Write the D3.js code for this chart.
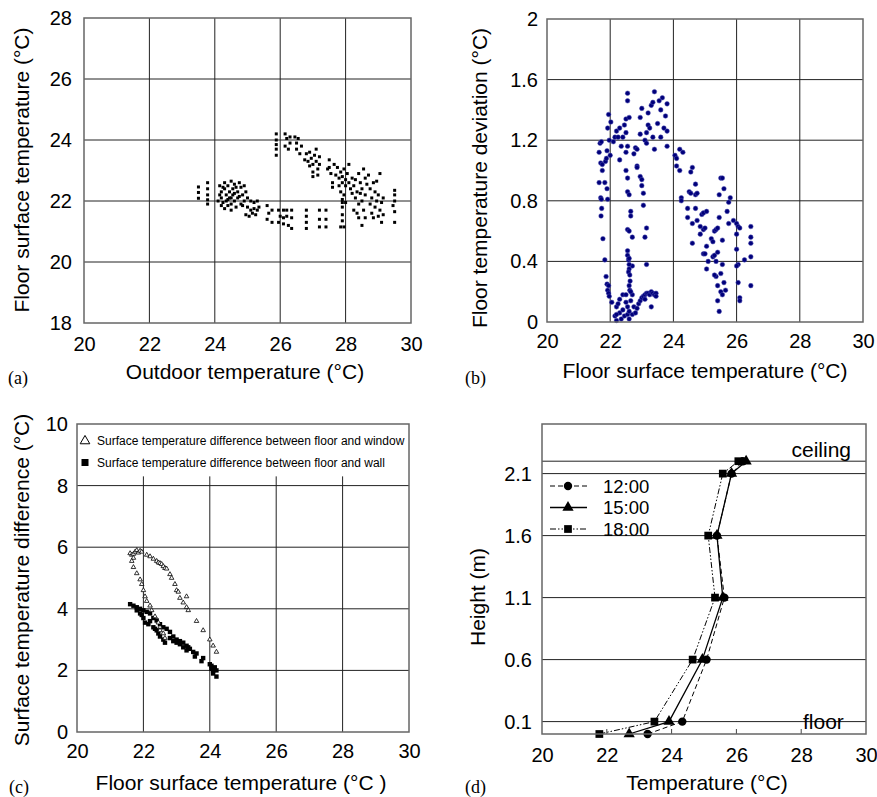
<!DOCTYPE html>
<html>
<head>
<meta charset="utf-8">
<script src="https://cdn.jsdelivr.net/npm/d3@7"></script>
<style>
  body { margin: 0; background: #fff; }
  text { font-family: "Liberation Sans", Arial, sans-serif; fill: #000; }
  .plab { font-family: "Liberation Serif", "Times New Roman", serif; }
</style>
</head>
<body>
<svg id="fig" width="877" height="797"></svg>
<script>
// (a) outdoor temperature vs floor surface temperature
const A_POINTS = [
  [23.5,22.46],[23.5,22.28],[23.5,22.09],
  [23.78,22.6],[23.78,22.4],[23.78,22.2],[23.78,22.04],[23.78,21.9],
  [24.15,22.5],[24.2,22.3],[24.2,22.1],[24.25,21.95],[24.3,22.6],[24.3,22.4],[24.35,22.2],[24.35,22.0],
  [24.4,21.85],[24.4,22.5],[24.45,22.3],[24.45,22.1],[24.5,22.65],[24.5,21.9],[24.55,22.4],[24.55,22.2],
  [24.6,22.0],[24.6,22.55],[24.65,21.8],[24.7,22.3],[24.7,22.1],[24.75,22.6],[24.8,22.45],[24.8,21.9],
  [24.85,22.2],[24.9,22.5],[24.9,22.0],[24.3,21.75],[24.5,21.7],[24.1,22.0],[24.15,22.2],[24.25,22.45],
  [24.6,22.25],[24.4,22.05],[24.65,22.45],[24.75,22.15],[24.85,21.85],[24.95,22.3],[24.2,21.85],[24.5,22.1],
  [25.0,22.1],[25.0,21.8],[25.05,21.5],[25.1,22.0],[25.1,21.7],[25.15,21.6],[25.2,21.95],[25.2,21.75],
  [25.25,21.55],[25.3,22.0],[25.3,21.7],[24.95,21.55],[25.35,21.8],
  [25.6,21.85],[25.65,21.6],[25.6,21.4],[25.75,21.7],[25.75,21.3],
  [25.95,21.7],[26.0,21.5],[25.95,21.3],[26.1,21.7],[26.1,21.45],[26.1,21.25],[26.2,21.7],[26.2,21.5],
  [26.25,21.2],[26.35,21.7],[26.35,21.45],[26.35,21.1],
  [26.8,21.7],[26.8,21.5],[26.8,21.3],[26.8,21.1],
  [27.2,21.7],[27.2,21.4],[27.2,21.15],[27.4,21.7],[27.4,21.4],[27.4,21.15],
  [27.9,21.8],[27.9,21.55],[27.9,21.35],[27.85,21.15],[27.95,21.15],[27.9,21.95],
  [25.88,24.2],[25.88,24.0],[25.88,23.85],[25.88,23.7],[25.88,23.5],
  [26.15,24.2],[26.2,24.05],[26.15,23.8],[26.3,24.1],[26.3,23.9],[26.25,23.7],
  [26.45,24.1],[26.5,23.9],[26.55,24.05],[26.5,23.7],[26.6,23.55],[26.65,23.8],
  [26.8,23.55],[26.85,23.3],[26.9,23.6],[26.95,23.4],[27.0,23.2],[27.0,22.95],[27.05,23.5],[27.1,23.7],
  [27.1,23.3],[27.15,23.05],[27.2,23.45],[27.0,22.8],[26.9,23.15],[27.15,22.85],[27.2,23.2],[26.75,23.35],
  [27.5,23.35],[27.5,23.1],[27.55,22.9],[27.6,22.6],[27.6,22.45],[27.45,23.05],[27.65,23.2],[27.7,22.85],
  [27.75,23.1],[27.8,22.75],[27.85,22.95],[27.9,22.6],[27.9,22.8],[27.95,23.05],[28.0,22.5],[28.0,22.7],
  [28.05,22.9],[28.1,22.6],[28.1,23.2],[28.15,22.4],[27.8,22.5],[27.85,22.3],[28.2,22.75],[28.2,22.25],
  [27.95,22.2],[28.0,21.95],[27.9,22.05],
  [28.25,22.5],[28.3,22.7],[28.3,22.1],[28.35,22.3],[28.4,22.9],[28.4,21.9],[28.45,22.6],[28.5,22.0],
  [28.5,22.4],[28.55,23.05],[28.55,21.7],[28.6,22.2],[28.6,22.75],[28.6,21.45],[28.65,22.55],[28.35,21.6],
  [28.4,21.45],[28.5,21.2],[28.25,21.7],[28.45,22.25],
  [28.7,22.85],[28.75,22.4],[28.75,21.9],[28.8,22.1],[28.8,21.6],[28.85,22.6],[28.85,21.45],[28.9,22.3],
  [28.9,21.8],[28.95,22.0],[29.0,22.2],[29.0,21.5],[29.05,22.9],[29.05,21.7],[29.1,21.95],[29.1,21.3],
  [28.95,22.65],[29.15,21.55],[29.15,22.1],
  [29.5,22.35],[29.5,22.2],[29.5,22.0],[29.5,21.65],[29.5,21.3],[29.45,21.85]
];

// (b) floor surface temperature vs floor temperature deviation
const B_POINTS = [
  [21.65,1.12],[21.68,1.18],[21.72,1.19],[21.7,1.05],[21.75,1.04],[21.75,1.0],[21.65,0.92],[21.83,0.92],
  [21.7,0.82],[21.72,0.81],[21.73,0.75],[21.71,0.70],[21.77,0.55],[21.83,0.41],[21.87,0.30],[21.9,0.25],
  [21.95,0.24],[21.92,0.21],[21.95,0.19],[21.97,0.17],[21.9,0.88],[21.92,0.81],[21.85,1.06],[21.88,1.08],
  [21.9,1.13],[21.92,1.28],[21.95,1.37],[21.97,1.2],[22.0,1.1],[22.02,1.32],
  [22.1,1.19],[22.15,1.22],[22.2,1.26],[22.25,1.22],[22.3,1.28],[22.35,1.16],[22.3,1.07],[22.4,1.22],
  [22.45,1.3],[22.5,1.34],[22.55,1.46],[22.55,1.51],[22.6,1.35],[22.5,1.25],[22.5,1.12],[22.55,1.16],
  [22.5,1.0],[22.55,0.95],[22.55,0.86],[22.6,0.84],[22.65,0.73],[22.65,0.70],[22.55,0.61],[22.6,0.60],
  [22.7,0.56],[22.7,0.37],
  [22.8,1.15],[22.75,1.11],[22.85,1.14],[22.85,1.03],[22.85,1.02],[22.95,1.24],[22.95,1.35],[23.0,1.41],
  [22.95,0.96],[23.0,0.94],[23.0,0.9],[23.05,0.85],[23.05,0.77],[23.1,0.56],[23.15,0.62],[23.15,0.38],
  [23.1,1.2],[23.15,1.18],[23.15,1.25],[23.2,1.3],[23.2,1.38],[23.3,1.43],[23.35,1.45],[23.4,1.52],
  [23.35,1.22],[23.4,1.14],[23.5,1.31],[23.55,1.46],[23.6,1.4],[23.65,1.48],[23.6,1.22],[23.7,1.28],
  [23.75,1.36],[23.8,1.44],[23.8,1.26],[23.8,1.16],[23.25,1.28],
  [22.05,0.13],[22.15,0.04],[22.2,0.1],[22.2,0.01],[22.25,0.12],[22.3,0.06],[22.3,0.15],[22.35,0.02],
  [22.4,0.18],[22.45,0.04],[22.5,0.13],[22.5,0.18],[22.55,0.05],[22.55,0.1],[22.6,0.02],[22.65,0.14],
  [22.7,0.05],[22.7,0.18],[22.75,0.1],[22.8,0.06],[22.85,0.09],[22.9,0.12],[22.95,0.14],[23.0,0.16],
  [23.05,0.17],[23.1,0.18],[23.15,0.19],[23.2,0.19],[23.25,0.18],[23.3,0.2],[23.35,0.19],[23.4,0.18],
  [23.45,0.19],[23.45,0.17],[23.3,0.1],[23.1,0.15],[22.2,0.05],[22.4,0.08],[22.6,0.07],
  [22.55,0.47],[22.55,0.44],[22.58,0.41],[22.6,0.38],[22.6,0.35],[22.58,0.33],[22.62,0.31],[22.63,0.27],
  [22.6,0.24],[22.62,0.21],[22.65,0.2],[22.6,0.42],
  [24.05,1.1],[24.1,1.08],[24.1,1.03],[24.2,1.0],[24.2,1.14],[24.3,1.12],[24.25,0.82],[24.25,0.8],
  [24.45,0.75],[24.45,0.69],[24.5,0.86],[24.55,0.85],[24.55,0.99],[24.6,1.02],[24.6,0.65],[24.6,0.52],
  [24.7,0.91],[24.7,0.84],[24.75,0.85],[24.7,0.75],[24.75,0.67],[24.9,0.71],[24.95,0.72],[24.85,0.63],
  [24.85,0.58],[24.95,0.61],[25.0,0.62],[25.05,0.73],[24.95,0.45],[25.05,0.5],[25.0,0.45],[25.1,0.4],
  [25.05,0.35],[25.2,0.55],[25.25,0.53],[25.25,0.43],[25.3,0.44],[25.3,0.6],[25.35,0.61],[25.35,0.3],
  [25.3,0.31],[25.35,0.4],[25.4,0.46],[25.4,0.62],[25.45,0.69],[25.45,0.84],[25.5,0.95],[25.55,0.95],
  [25.6,0.88],[25.55,0.54],[25.5,0.32],[25.4,0.14],[25.45,0.07],[25.4,0.24],[25.55,0.38],[25.5,0.2],
  [25.55,0.18],[25.6,0.26],[25.65,0.21],[25.7,0.73],[25.75,0.79],[25.8,0.82],[25.75,0.65],[25.9,0.67],
  [26.0,0.65],[26.0,0.58],[26.0,0.48],[26.05,0.38],[26.05,0.63],[26.1,0.62],[26.0,0.37],[26.05,0.26],
  [26.1,0.16],[26.1,0.14],[26.25,0.41],[26.45,0.63],[26.45,0.56],[26.45,0.52],[26.45,0.43],[26.45,0.24]
];

// (c) floor surface temperature vs surface temperature differences
const C_WINDOW = [
  [21.6,5.8],[21.65,5.75],[21.7,5.78],[21.75,5.85],[21.8,5.9],[21.85,5.82],[21.9,5.88],[21.95,5.85],[21.7,5.65],
  [22.1,5.75],[22.2,5.7],[22.3,5.62],[22.4,5.55],[22.45,5.5],[22.5,5.48],[22.55,5.45],[22.6,5.38],[22.65,5.32],
  [22.7,5.3],[22.8,5.12],[22.85,5.0],[22.95,4.8],[23.0,4.6],[23.05,4.55],[23.1,4.35],[23.2,4.2],[23.3,4.4],
  [23.3,4.05],[23.35,3.95],[23.6,3.6],[23.8,3.3],[24.0,3.0],[24.1,2.8],[24.2,2.6],
  [21.65,5.55],[21.7,5.35],[21.8,5.15],[21.9,4.95],[21.95,4.8],[22.0,4.6],[22.05,4.4],[22.1,4.25],
  [22.2,4.1],[22.25,3.95],[22.35,3.75],[22.45,3.55],[22.5,3.4],[22.6,3.2],[22.65,3.05],[22.5,3.3]
];
const C_WALL = [
  [21.6,4.15],[21.7,4.1],[21.8,4.05],[21.9,4.0],[22.0,3.95],[22.1,3.9],[22.2,3.85],[22.3,3.7],
  [22.4,3.62],[22.5,3.5],[22.6,3.4],[22.7,3.35],[22.8,3.25],[22.9,3.1],[23.0,3.0],[23.1,2.95],
  [23.2,2.9],[23.3,2.8],[23.4,2.7],[23.6,2.55],[23.8,2.4],[24.0,2.2],[24.05,2.05],[24.1,2.0],
  [24.15,2.1],[24.2,2.0],[24.2,1.8],
  [21.8,3.95],[21.9,3.85],[22.0,3.7],[22.05,3.55],[22.15,3.5],[22.3,3.4],[22.4,3.3],[22.45,3.2],
  [22.5,3.1],[22.6,3.0],[22.65,2.9],[22.2,3.6],[21.95,3.8],[22.35,3.35],
  [22.8,3.05],[22.9,2.95],[23.0,2.9],[23.1,2.85],[23.2,2.75],[23.3,2.65],[23.35,2.75],[23.5,2.6],
  [23.55,2.45],[23.75,2.3],[24.05,2.15],[24.1,1.9]
];
const C_LEGEND = [
  "Surface temperature difference between floor and window",
  "Surface temperature difference between floor and wall"
];

// (d) vertical temperature profile
const D_HEIGHTS = [0, 0.1, 0.6, 1.1, 1.6, 2.1, 2.2];
const D_SERIES = ["12:00", "15:00", "18:00"];
const D_T1200 = [23.26, 24.33, 25.08, 25.63, 25.4, 25.85, 26.2];
const D_T1500 = [22.69, 23.92, 24.95, 25.58, 25.4, 25.85, 26.3];
const D_T1800 = [21.77, 23.47, 24.65, 25.34, 25.13, 25.58, 26.06];

const TEMP_TICKS = [20, 22, 24, 26, 28, 30];
const A_Y_TICKS = [18, 20, 22, 24, 26, 28];
const B_Y_TICKS = [0, 0.4, 0.8, 1.2, 1.6, 2];
const C_Y_TICKS = [0, 2, 4, 6, 8, 10];
const D_Y_TICKS = [0.1, 0.6, 1.1, 1.6, 2.1];
const D_CEILING = 2.2;

const FONT = '"Liberation Sans", Arial, sans-serif';
const TITLE_SIZE = 21;
const svg = d3.select("#fig");

function makePanel(c) {
  const x = d3.scaleLinear().domain(c.xDomain).range([c.left, c.right]);
  const y = d3.scaleLinear().domain(c.yDomain).range([c.bottom, c.top]);
  const g = svg.append("g");
  const grid = g.append("g").attr("stroke", "#222").attr("stroke-width", 1);
  if (c.vgrid) {
    grid.selectAll("line.v").data(c.xTicks.slice(1, -1)).join("line")
      .attr("class", "v")
      .attr("x1", d => x(d)).attr("x2", d => x(d))
      .attr("y1", c.vgridTop != null ? y(c.vgridTop) : c.top).attr("y2", c.bottom);
  }
  grid.selectAll("line.h").data(c.hgrid).join("line")
    .attr("class", "h")
    .attr("x1", c.left).attr("x2", c.right)
    .attr("y1", d => y(d)).attr("y2", d => y(d));

  const ax = g.append("g").attr("transform", `translate(0,${c.bottom})`)
    .call(d3.axisBottom(x).tickValues(c.xTicks).tickSize(0).tickPadding(c.xPad).tickFormat(String));
  const ay = g.append("g").attr("transform", `translate(${c.left},0)`)
    .call(d3.axisLeft(y).tickValues(c.yTicks).tickSize(0).tickPadding(c.yPad).tickFormat(String));
  [ax, ay].forEach(a => {
    a.select(".domain").remove();
    a.attr("font-size", 20).attr("font-family", FONT);
  });

  const plot = g.append("g");
  return { x, y, g, plot, c };
}

function frame(p) {
  const c = p.c;
  p.g.append("rect")
    .attr("x", c.left).attr("y", c.top)
    .attr("width", c.right - c.left).attr("height", c.bottom - c.top)
    .attr("fill", "none").attr("stroke", "#666").attr("stroke-width", 1.5);
}

function titles(p, t) {
  p.g.append("text").attr("x", t.xx).attr("y", t.xy)
    .attr("text-anchor", "middle").attr("font-size", TITLE_SIZE).text(t.xText);
  p.g.append("text")
    .attr("transform", `translate(${t.yx},${t.yy}) rotate(-90)`)
    .attr("text-anchor", "middle").attr("font-size", TITLE_SIZE).text(t.yText);
  p.g.append("text").attr("class", "plab").attr("x", t.lx).attr("y", t.ly)
    .attr("font-size", 18).text(t.label);
}

// ---------- (a)
const pa = makePanel({
  left: 84, right: 411, top: 18, bottom: 323,
  xDomain: [20, 30], yDomain: [18, 28],
  xTicks: TEMP_TICKS, yTicks: A_Y_TICKS, vgrid: true, hgrid: A_Y_TICKS.slice(1, -1),
  xPad: 14, yPad: 12
});
pa.plot.selectAll("rect").data(A_POINTS).join("rect")
  .attr("x", d => pa.x(d[0]) - 1.5).attr("y", d => pa.y(d[1]) - 1.5)
  .attr("width", 3).attr("height", 3).attr("fill", "#000");
frame(pa);
titles(pa, { xx: 245, xy: 379, xText: "Outdoor temperature (°C)",
  yx: 29, yy: 170, yText: "Floor surface temperature (°C)", lx: 8, ly: 384, label: "(a)" });

// ---------- (b)
const pb = makePanel({
  left: 547, right: 863, top: 19, bottom: 322,
  xDomain: [20, 30], yDomain: [0, 2],
  xTicks: TEMP_TICKS, yTicks: B_Y_TICKS, vgrid: true, hgrid: B_Y_TICKS.slice(1, -1),
  xPad: 12, yPad: 9
});
pb.plot.selectAll("circle").data(B_POINTS).join("circle")
  .attr("cx", d => pb.x(d[0])).attr("cy", d => pb.y(d[1])).attr("r", 2.3)
  .attr("fill", "#00007a").attr("stroke", "#4a4ab0").attr("stroke-width", 0.5);
frame(pb);
titles(pb, { xx: 705, xy: 378, xText: "Floor surface temperature (°C)",
  yx: 487, yy: 178, yText: "Floor temperature deviation (°C)", lx: 465, ly: 384, label: "(b)" });

// ---------- (c)
const pc = makePanel({
  left: 77, right: 409, top: 424, bottom: 732,
  xDomain: [20, 30], yDomain: [0, 10],
  xTicks: TEMP_TICKS, yTicks: C_Y_TICKS, vgrid: true, vgridTop: 8.3, hgrid: C_Y_TICKS.slice(1, -1),
  xPad: 12, yPad: 9
});
pc.plot.selectAll("rect").data(C_WALL).join("rect")
  .attr("x", d => pc.x(d[0]) - 2.2).attr("y", d => pc.y(d[1]) - 2.2)
  .attr("width", 4.4).attr("height", 4.4).attr("fill", "#000");
pc.plot.selectAll("path").data(C_WINDOW).join("path")
  .attr("transform", d => `translate(${pc.x(d[0])},${pc.y(d[1])})`)
  .attr("d", d3.symbol(d3.symbolTriangle, 9))
  .attr("fill", "#fff").attr("stroke", "#000").attr("stroke-width", 0.8);
const cl = pc.g.append("g").attr("font-size", 12);
cl.append("path").attr("transform", `translate(${85},${441})`)
  .attr("d", d3.symbol(d3.symbolTriangle, 40))
  .attr("fill", "#fff").attr("stroke", "#000").attr("stroke-width", 1);
cl.append("rect").attr("x", 81.5).attr("y", 459).attr("width", 7).attr("height", 7).attr("fill", "#000");
cl.selectAll("text").data(C_LEGEND).join("text")
  .attr("x", 97).attr("y", (d, i) => 445 + i * 22).text(d => d);
frame(pc);
titles(pc, { xx: 241, xy: 790, xText: "Floor surface temperature (°C )",
  yx: 29, yy: 580, yText: "Surface temperature difference (°C)", lx: 9, ly: 793, label: "(c)" });

// ---------- (d)
const pd = makePanel({
  left: 542, right: 866, top: 424, bottom: 734,
  xDomain: [20, 30], yDomain: [0, 2.5],
  xTicks: TEMP_TICKS, yTicks: D_Y_TICKS, vgrid: false, hgrid: D_Y_TICKS.concat([D_CEILING]),
  xPad: 14, yPad: 10
});
pd.g.append("g").attr("stroke", "#444").selectAll("line").data(TEMP_TICKS.slice(1, -1)).join("line")
  .attr("x1", d => pd.x(d)).attr("x2", d => pd.x(d))
  .attr("y1", 734).attr("y2", 729);

const dStyles = [
  { temps: D_T1200, dash: "5,3", width: 1, sym: d3.symbolCircle, size: 55 },
  { temps: D_T1500, dash: null, width: 1.3, sym: d3.symbolTriangle, size: 55 },
  { temps: D_T1800, dash: "6,2,1.5,2,1.5,2", width: 1, sym: d3.symbolSquare, size: 60 }
];
const line = d3.line().x(d => pd.x(d[0])).y(d => pd.y(d[1]));
dStyles.forEach(s => {
  const pts = s.temps.map((t, i) => [t, D_HEIGHTS[i]]);
  pd.plot.append("path").datum(pts).attr("d", line)
    .attr("fill", "none").attr("stroke", "#000").attr("stroke-width", s.width)
    .attr("stroke-dasharray", s.dash);
  pd.plot.selectAll(null).data(pts).join("path")
    .attr("transform", d => `translate(${pd.x(d[0])},${pd.y(d[1])})`)
    .attr("d", d3.symbol(s.sym, s.size)).attr("fill", "#000");
});

const dl = pd.g.append("g");
dStyles.forEach((s, i) => {
  const yy = 486 + i * 21.5;
  dl.append("line").attr("x1", 550).attr("x2", 587).attr("y1", yy).attr("y2", yy)
    .attr("stroke", "#000").attr("stroke-width", s.width).attr("stroke-dasharray", s.dash);
  dl.append("path").attr("transform", `translate(568,${yy})`)
    .attr("d", d3.symbol(s.sym, s.size)).attr("fill", "#000");
  dl.append("text").attr("x", 603).attr("y", yy + 6.5).attr("font-size", 18.5).text(D_SERIES[i]);
});
pd.g.append("text").attr("x", 851).attr("y", 457).attr("text-anchor", "end")
  .attr("font-size", TITLE_SIZE).text("ceiling");
pd.g.append("text").attr("x", 803).attr("y", 729).attr("font-size", TITLE_SIZE).text("floor");
frame(pd);
titles(pd, { xx: 707, xy: 790, xText: "Temperature (°C)",
  yx: 485, yy: 597, yText: "Height (m)", lx: 465, ly: 793, label: "(d)" });
</script>
</body>
</html>
